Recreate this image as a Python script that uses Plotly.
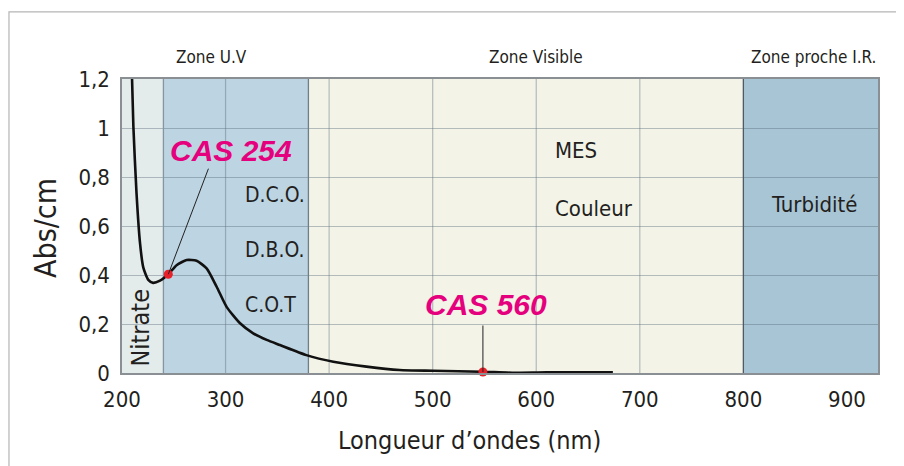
import plotly.graph_objects as go

# ---- data ----
wavelength = [209.7, 211, 214, 217.4, 220.6, 225.4, 230, 236.7, 244.7, 252.7, 262.4, 272,
              281.7, 291.4, 301, 314, 326.7, 339.7, 352.5, 378, 404, 436, 468, 500.5,
              548.5, 577, 610, 674]
absorbance = [1.2, 1.005, 0.735, 0.53, 0.43, 0.38, 0.368, 0.377, 0.403, 0.44, 0.461, 0.458,
              0.427, 0.352, 0.27, 0.203, 0.162, 0.135, 0.114, 0.073, 0.046, 0.026, 0.012, 0.009,
              0.005, 0.001, 0.003, 0.003]

cas_names = ["CAS 254", "CAS 560"]
cas_x = [244.7, 548.5]
cas_y = [0.403, 0.004]

zone_names = ["Nitrate", "Zone U.V", "Zone Visible", "Zone proche I.R."]
zone_start = [200, 240, 380, 800]
zone_end = [240, 380, 800, 930]
zone_colors = ["#e3ebeb", "#bdd4e2", "#f3f3e7", "#a8c5d6"]

x_ticks = [200, 300, 400, 500, 600, 700, 800, 900]
y_ticks = [0, 0.2, 0.4, 0.6, 0.8, 1.0, 1.2]
y_tick_text = ["0", "0,2", "0,4", "0,6", "0,8", "1", "1,2"]

FONT = "Liberation Sans Narrow, Arial Narrow, DejaVu Sans Condensed, sans-serif"
TXT = "#231f20"
MAG = "#e5007d"

fig = go.Figure()

fig.add_trace(go.Scatter(x=wavelength, y=absorbance, mode="lines",
                         line=dict(color="#111111", width=2.6, shape="spline", smoothing=0.6),
                         hoverinfo="skip", showlegend=False))
fig.add_trace(go.Scatter(x=cas_x, y=cas_y, mode="markers",
                         marker=dict(color="#e8202a", size=9), showlegend=False,
                         cliponaxis=False))

shapes = []
for s, e, c in zip(zone_start, zone_end, zone_colors):
    shapes.append(dict(type="rect", xref="x", yref="y", x0=s, x1=e, y0=0, y1=1.2,
                       fillcolor=c, line=dict(width=0), layer="below"))
# vertical grid lines (none inside the near-IR zone)
for t in x_ticks:
    if zone_start[0] < t < zone_start[3]:
        shapes.append(dict(type="line", xref="x", yref="y", x0=t, x1=t, y0=0, y1=1.2,
                           line=dict(color="rgba(90,110,125,0.42)", width=1.2), layer="between"))
# zone borders
for b, col in zip(zone_start[1:], ["#8596a3", "#6f7f8a", "#4f5a62"]):
    shapes.append(dict(type="line", xref="x", yref="y", x0=b, x1=b, y0=0, y1=1.2,
                       line=dict(color=col, width=1.3), layer="between"))
# outer frame of the figure
shapes.append(dict(type="rect", xref="paper", yref="paper", x0=-0.1495, x1=1.2, y0=-0.5,
                   y1=1.228, line=dict(color="#b5b5b5", width=1.2), fillcolor="rgba(0,0,0,0)"))

ann = []
# zone titles
ann.append(dict(x=286, y=1.075, xref="x", yref="paper", text=zone_names[1], showarrow=False,
                font=dict(family=FONT, size=17, color=TXT), xanchor="center", yanchor="middle"))
ann.append(dict(x=600, y=1.075, xref="x", yref="paper", text=zone_names[2], showarrow=False,
                font=dict(family=FONT, size=17, color=TXT), xanchor="center", yanchor="middle"))
ann.append(dict(x=930, y=1.075, xref="x", yref="paper", text=zone_names[3], showarrow=False,
                font=dict(family=FONT, size=17, color=TXT), xanchor="right", yanchor="middle"))
# nitrate
ann.append(dict(x=218, y=0.184, xref="x", yref="y", text=zone_names[0], showarrow=False,
                textangle=-90, font=dict(family=FONT, size=25, color=TXT)))
# parameter labels
for txt, xx, yy in [("D.C.O.", 317, 0.727), ("D.B.O.", 317, 0.502), ("C.O.T", 317, 0.278)]:
    ann.append(dict(x=xx, y=yy, xref="x", yref="y", text=txt, showarrow=False, xanchor="left",
                    font=dict(family=FONT, size=21, color=TXT)))
for txt, xx, yy in [("MES", 616, 0.91), ("Couleur", 616, 0.673)]:
    ann.append(dict(x=xx, y=yy, xref="x", yref="y", text=txt, showarrow=False, xanchor="left",
                    font=dict(family=FONT, size=22, color=TXT)))
ann.append(dict(x=869, y=0.686, xref="x", yref="y", text="Turbidité", showarrow=False,
                font=dict(family=FONT, size=22, color=TXT)))
# CAS labels with leader lines
ann.append(dict(x=cas_x[0], y=cas_y[0], ax=284, ay=0.84, axref="x", ayref="y", xref="x", yref="y",
                text="", showarrow=True, arrowhead=0, arrowwidth=1, arrowcolor="#222"))
ann.append(dict(x=305, y=0.91, xref="x", yref="y", text="<b><i>" + cas_names[0] + "</i></b>",
                showarrow=False, font=dict(family="Liberation Sans, Arial, sans-serif", size=30, color=MAG)))
ann.append(dict(x=cas_x[1], y=cas_y[1], ax=cas_x[1], ay=0.2, axref="x", ayref="y", xref="x", yref="y",
                text="", showarrow=True, arrowhead=0, arrowwidth=1, arrowcolor="#222"))
ann.append(dict(x=551, y=0.278, xref="x", yref="y", text="<b><i>" + cas_names[1] + "</i></b>",
                showarrow=False, font=dict(family="Liberation Sans, Arial, sans-serif", size=30, color=MAG)))
# axis titles
ann.append(dict(x=-0.102, y=0.493, xref="paper", yref="paper", text="Abs/cm", showarrow=False,
                xanchor="center", yanchor="middle",
                textangle=-90, font=dict(family=FONT, size=30, color=TXT)))
ann.append(dict(x=0.459, y=-0.228, xref="paper", yref="paper", text="Longueur d’ondes (nm)",
                xanchor="center", yanchor="middle",
                showarrow=False, font=dict(family=FONT, size=25, color=TXT)))

fig.update_layout(
    width=904, height=466,
    margin=dict(l=114, r=34, t=71, b=101),
    paper_bgcolor="white", plot_bgcolor="white",
    shapes=shapes, annotations=ann, showlegend=False,
    xaxis=dict(range=[200, 930], tickvals=x_ticks, ticktext=[str(v) for v in x_ticks],
               showgrid=False, zeroline=False, showline=True, mirror=True,
               linecolor="#8a8f93", linewidth=1.5, ticks="", ticklabelstandoff=6,
               tickfont=dict(family=FONT, size=22, color=TXT)),
    yaxis=dict(range=[0, 1.2], tickvals=y_ticks, ticktext=y_tick_text,
               showgrid=True, gridcolor="rgba(90,110,125,0.42)", gridwidth=1.2,
               zeroline=False, showline=True, mirror=True,
               linecolor="#8a8f93", linewidth=1.5, ticks="", ticklabelstandoff=6,
               tickfont=dict(family=FONT, size=22, color=TXT)),
)

fig.write_html("out.html")
